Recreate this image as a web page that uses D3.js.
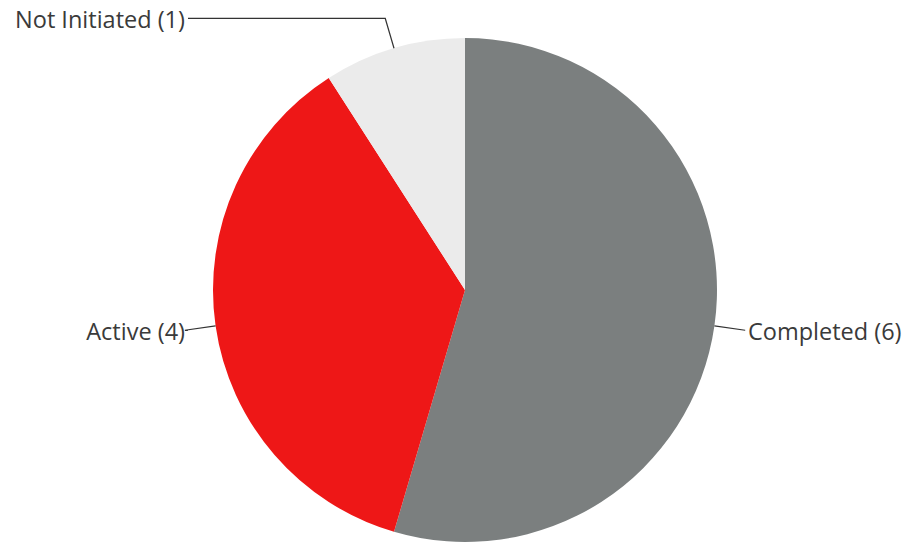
<!DOCTYPE html>
<html><head><meta charset="utf-8">
<script src="https://cdn.jsdelivr.net/npm/d3@7/dist/d3.min.js"></script>
<style>html,body{margin:0;padding:0;background:#fff;}svg{display:block;}</style>
</head><body>
<script>
const categories = ["Completed", "Active", "Not Initiated"];
const values = [6, 4, 1];
const colors = ["#7b7f7f", "#ee1717", "#ebebeb"];

const W = 907, H = 544;
const cx = 465, cy = 290, R = 252;
const svg = d3.select("body").append("svg").attr("width", W).attr("height", H);
const g = svg.append("g").attr("transform", `translate(${cx},${cy})`);

const data = categories.map((c, i) => ({name: c, value: values[i], color: colors[i]}));
const pie = d3.pie().value(d => d.value).sort(null);
const arcs = pie(data);
const arc = d3.arc().innerRadius(0).outerRadius(R);

g.selectAll("path.slice").data(arcs).join("path")
  .attr("class", "slice")
  .attr("d", arc)
  .attr("fill", d => d.data.color);

const outerR = R + 31;
const labelDX = R + 28;
arcs.forEach(a => {
  const mid = (a.startAngle + a.endAngle) / 2;
  const p1 = [R * Math.sin(mid), -R * Math.cos(mid)];
  const p2 = [outerR * Math.sin(mid), -outerR * Math.cos(mid)];
  const right = Math.sin(mid) > 0;
  const lx = right ? labelDX : -labelDX + 3;
  const pts = [p1, p2, [lx, p2[1]]];
  g.append("path")
    .attr("d", d3.line()(pts))
    .attr("fill", "none")
    .attr("stroke", "#333")
    .attr("stroke-width", 1.2);
  g.append("text")
    .attr("x", right ? lx + 3 : lx - 3)
    .attr("y", p2[1] + 1)
    .attr("dy", "0.35em")
    .attr("text-anchor", right ? "start" : "end")
    .attr("font-family", "'Open Sans', 'Noto Sans', sans-serif")
    .attr("font-size", 23.5)
    .attr("fill", "#3a3a3a")
    .text(`${a.data.name} (${a.data.value})`);
});
</script>
</body></html>
